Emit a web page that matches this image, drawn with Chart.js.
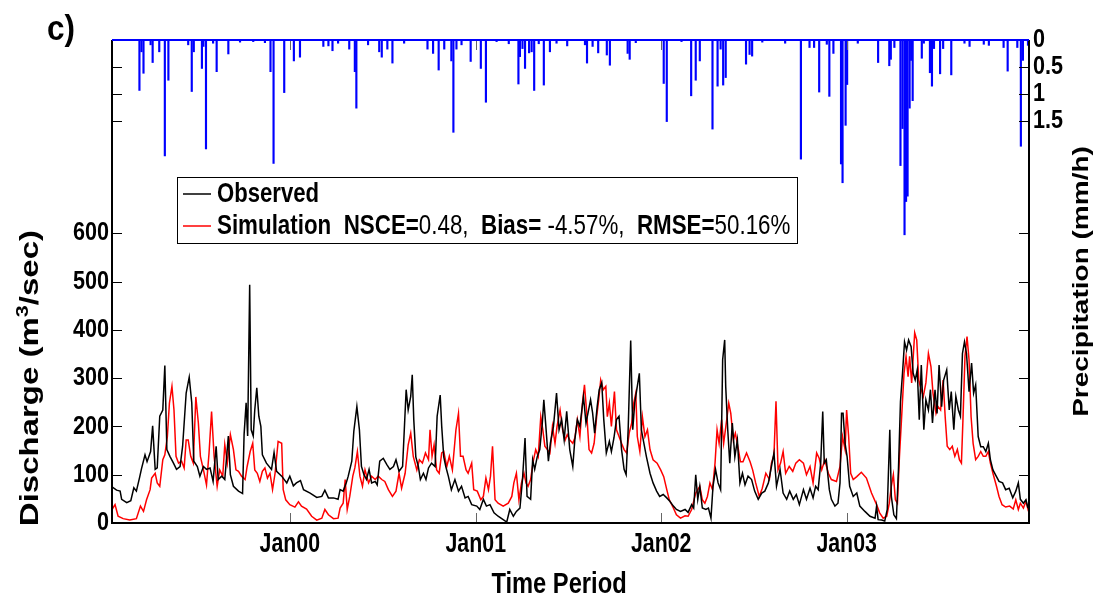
<!DOCTYPE html>
<html>
<head>
<meta charset="utf-8">
<script src="https://cdn.jsdelivr.net/npm/chart.js@4.4.1/dist/chart.umd.min.js"></script>
<style>
  html, body { margin: 0; padding: 0; background: #fff; }
  canvas { display: block; }
</style>
</head>
<body>
<canvas id="chart" width="1101" height="605"></canvas>
<script>
// x values are days counted from 1 Jan 1999 (day 0)
const xTickDays = [365, 731, 1096, 1461];
const xTickLabels = ['Jan00', 'Jan01', 'Jan02', 'Jan03'];
const qTicks = [0, 100, 200, 300, 400, 500, 600];
const pTicks = [0, 0.5, 1, 1.5];
const pTickLabels = ['0', '0.5', '1', '1.5'];

// observed discharge (m3/sec)
const obsDay = [
  15, 24, 31, 34, 44, 52, 58, 63, 69, 73,
  80, 84, 91, 95, 100, 104, 109, 115, 119, 123,
  129, 136, 142, 149, 154, 161, 167, 172, 176, 183,
  188, 195, 201, 208, 214, 220, 224, 231, 237, 244,
  248, 254, 264, 272, 275, 279, 282, 286, 289, 293,
  296, 300, 304, 308, 311, 319, 329, 334, 339, 349,
  359, 365, 372, 378, 386, 392, 405, 418, 428, 434,
  441, 451, 460,
  464, 470, 476, 480, 487, 491, 497, 502, 506, 511,
  516, 521, 526, 533, 537, 542, 549, 556, 562, 569,
  574, 580, 587, 594, 598, 603, 606, 609, 613, 618,
  622, 628, 633, 638, 644, 651, 655, 661, 664, 668,
  672, 677, 683, 690, 697, 703, 710, 716, 723, 733,
  739, 746, 752, 759, 767, 775, 785, 792, 798, 805,
  811, 818, 823, 828, 832, 839, 843, 847, 852, 857,
  862, 865, 869, 874, 878, 884, 890, 895, 900, 905,
  910,
  916, 922, 926, 931, 936, 943, 948, 952, 957, 961,
  965, 970, 974, 979, 983, 988, 994, 998, 1003, 1008,
  1013, 1018, 1023, 1027, 1031, 1036, 1040, 1044, 1048, 1053,
  1057, 1062, 1067, 1074, 1080, 1087, 1093, 1100, 1107, 1113,
  1120, 1126, 1134, 1143, 1149, 1156, 1160, 1164, 1168, 1172,
  1177, 1184, 1189, 1194, 1198, 1203, 1208, 1213, 1217, 1221,
  1223, 1227, 1231, 1236, 1241, 1246, 1251, 1256, 1261, 1267,
  1274, 1280, 1287, 1294, 1300, 1307, 1313, 1318, 1323, 1330,
  1336, 1343, 1349, 1356, 1362, 1368,
  1376, 1382, 1389, 1395, 1400, 1405, 1410, 1414, 1417, 1421,
  1427, 1431, 1438, 1444, 1448, 1451, 1454, 1458, 1462, 1467,
  1474, 1481, 1487, 1497, 1507, 1517, 1520, 1523, 1530, 1536,
  1541, 1546, 1549, 1554, 1559, 1563, 1567, 1571, 1575, 1579,
  1583, 1588, 1592, 1596, 1600, 1604, 1608, 1613, 1617, 1622,
  1626, 1630, 1635, 1639, 1643, 1648, 1652, 1658, 1663, 1667,
  1672, 1676, 1681, 1685, 1689, 1693, 1697, 1702, 1707, 1711,
  1715, 1720, 1725, 1730, 1735, 1740, 1744, 1749, 1756, 1761,
  1768, 1774, 1781, 1788, 1794, 1799, 1803, 1809, 1814, 1818
];
const obsQ = [
  75, 68, 66, 49, 42, 46, 73, 66, 93, 112,
  141, 127, 148, 201, 111, 114, 221, 234, 326, 152,
  138, 124, 111, 117, 159, 269, 302, 249, 128, 117,
  97, 117, 111, 114, 86, 159, 90, 97, 90, 180,
  100, 76, 66, 61, 183, 249, 180, 493, 193, 180,
  234, 280, 221, 200, 141, 124, 111, 146, 107, 97,
  83, 97, 77, 83, 88, 69, 62, 53, 55, 68,
  52, 52, 49,
  69, 66, 83, 97, 128, 190, 241, 193, 117, 100,
  90, 111, 83, 86, 79, 128, 134, 121, 111, 117,
  131, 107, 117, 276, 234, 262, 307, 214, 137, 117,
  90, 103, 90, 114, 124, 117, 221, 265, 200, 137,
  117, 97, 69, 90, 66, 76, 52, 55, 38, 35,
  28, 49, 35, 38, 21, 14, 7, 2, 28, 14,
  24, 31, 90, 176, 55, 49, 131, 111, 137, 152,
  207, 255, 200, 128, 166, 200, 269, 193, 214, 172,
  231,
  152, 117, 172, 214, 200, 262, 207, 228, 255, 228,
  186, 241, 276, 290, 214, 145, 169, 148, 176, 214,
  221, 152, 111, 100, 193, 378, 193, 249, 276, 310,
  193, 165, 137, 103, 83, 66, 55, 59, 52, 45,
  35, 28, 24, 28, 22, 38, 31, 100, 49, 76,
  31, 28, 31, 10, 76, 111, 83, 69, 338, 379,
  283, 193, 124, 207, 137, 172, 83, 103, 79, 97,
  90, 66, 49, 62, 66, 83, 117, 145, 76, 111,
  62, 49, 66, 49, 59, 38,
  69, 49, 72, 52, 76, 69, 124, 231, 124, 131,
  69, 49, 35, 41, 83, 227, 227, 165, 137, 76,
  55, 62, 35, 24, 14, 10, 35, 7, 6, 4,
  28, 193, 55, 17, 9, 110, 251, 310, 375, 358,
  379, 365, 310, 296, 317, 214, 327, 193, 255, 234,
  276, 207, 276, 227, 327, 241, 296, 317, 234, 272,
  193, 262, 234, 221, 351, 375, 351, 272, 331, 269,
  286, 179, 158, 158, 148, 165, 131, 110, 96, 86,
  83, 69, 72, 52, 66, 83, 49, 41, 48, 31
];

// simulated discharge (m3/sec)
const simDay = [
  15, 21, 27, 37, 50, 63, 71, 77, 83, 90,
  93, 100, 104, 109, 115, 119, 124, 128, 133, 137,
  141, 146, 152, 157, 161, 165, 170, 175, 180, 185,
  189, 195, 201, 206, 211, 216, 222, 227, 233, 237,
  242, 248, 254, 259, 264, 270, 277, 281, 287, 292,
  296, 301, 306, 311, 316, 321, 326, 331, 336, 342,
  349, 352, 357, 365, 375, 382, 388, 398, 408, 418,
  428, 434, 441, 451, 460,
  464, 470, 474, 478, 483, 489, 493, 498, 503, 508,
  513, 520, 526, 533, 539, 546, 552, 559, 567, 574,
  580, 585, 592, 598, 603, 608, 615, 620, 626, 632,
  638, 641, 645, 649, 654, 659, 664, 668, 674, 679,
  685, 692, 697, 701, 706, 712, 716, 723, 727, 734,
  741, 746, 751, 756, 760, 764, 769, 775, 785, 795,
  802, 806, 811, 816, 821, 826, 830, 834, 839, 844,
  849, 854, 859, 863, 867, 872, 877, 882, 887, 891,
  897, 902, 907, 911,
  916, 922, 926, 931, 936, 941, 945, 949, 954, 959,
  964, 969, 973, 977, 982, 987, 990, 994, 998, 1004,
  1008, 1013, 1018, 1023, 1028, 1033, 1038, 1042, 1046, 1049,
  1054, 1059, 1064, 1069, 1074, 1080, 1088, 1095, 1101, 1107,
  1112, 1120, 1126, 1134, 1143, 1149, 1156, 1164, 1172, 1177,
  1182, 1187, 1192, 1197, 1202, 1206, 1210, 1215, 1219, 1225,
  1229, 1233, 1238, 1242, 1248, 1252, 1257, 1264, 1271, 1276,
  1282, 1289, 1295, 1302, 1309, 1313, 1318, 1322, 1326, 1331,
  1336, 1341, 1348, 1355, 1361, 1368,
  1376, 1382, 1389, 1395, 1402, 1407, 1412, 1418, 1425, 1431,
  1441, 1448, 1453, 1458, 1461, 1465, 1469, 1474, 1481, 1490,
  1500, 1510, 1520, 1526, 1533, 1540, 1545, 1549, 1553, 1557,
  1561, 1565, 1569, 1574, 1578, 1582, 1585, 1589, 1595, 1599,
  1603, 1606, 1612, 1617, 1622, 1627, 1631, 1637, 1641, 1646,
  1651, 1655, 1659, 1664, 1669, 1674, 1679, 1683, 1687, 1690,
  1694, 1698, 1702, 1706, 1710, 1715, 1720, 1725, 1730, 1735,
  1740, 1744, 1749, 1756, 1761, 1767, 1774, 1782, 1789, 1794,
  1799, 1803, 1809, 1814, 1819
];
const simQ = [
  28, 38, 14, 9, 6, 9, 35, 24, 48, 69,
  93, 103, 83, 76, 131, 141, 179, 248, 283, 234,
  138, 124, 128, 114, 172, 172, 138, 124, 261, 207,
  138, 110, 79, 145, 231, 138, 76, 110, 97, 162,
  124, 183, 152, 110, 107, 97, 90, 117, 148, 165,
  110, 103, 86, 107, 114, 93, 103, 69, 103, 169,
  165, 69, 48, 38, 33, 44, 35, 29, 14, 6,
  10, 28, 17, 9, 10,
  31, 41, 90, 28, 55, 97, 114, 148, 97, 76,
  110, 83, 97, 90, 97, 90, 86, 69, 55, 66,
  103, 72, 103, 162, 186, 138, 110, 131, 124, 145,
  131, 193, 138, 162, 110, 103, 145, 148, 117, 138,
  110, 193, 227, 138, 138, 110, 103, 124, 69, 66,
  48, 55, 93, 69, 97, 159, 48, 41, 35, 41,
  55, 83, 103, 48, 83, 103, 83, 76, 90, 127,
  152, 138, 220, 193, 159, 152, 145, 200, 165, 200,
  234, 193, 172, 183,
  172, 165, 176, 214, 179, 248, 286, 234, 152, 145,
  165, 220, 255, 296, 276, 283, 220, 248, 200, 272,
  193, 179, 165, 152, 145, 186, 207, 248, 269, 179,
  148, 220, 179, 193, 152, 131, 124, 110, 96, 69,
  48, 31, 17, 10, 15, 14, 28, 62, 76, 48,
  41, 55, 83, 69, 124, 193, 165, 214, 165, 214,
  248, 227, 172, 186, 152, 127, 127, 145, 127, 110,
  83, 55, 72, 103, 90, 124, 141, 252, 110, 124,
  148, 103, 117, 107, 124, 131,
  124, 100, 117, 83, 145, 134, 110, 131, 103, 90,
  86, 117, 179, 152, 234, 179, 103, 90, 96, 105,
  93, 62, 38, 21, 10, 14, 41, 76, 100, 48,
  41, 138, 214, 310, 345, 303, 345, 290, 394, 379,
  296, 283, 262, 290, 351, 324, 269, 227, 241, 234,
  296, 220, 159, 152, 159, 138, 152, 131, 124, 214,
  345, 386, 338, 220, 165, 131, 138, 148, 138, 138,
  148, 124, 103, 76, 55, 38, 33, 35, 29, 48,
  28, 41, 31, 45, 24
];

// precipitation (mm/h), drawn downward from the top axis
const rainDay = [
  69, 73, 77, 91, 95, 108, 119, 126, 165, 172,
  176, 192, 195, 200, 214, 221, 244, 267, 293, 316,
  327, 333, 354, 373, 385, 431, 441, 449, 460, 482,
  493, 496, 519, 541, 546, 557, 567, 590, 636, 647,
  658, 669, 683, 687, 693, 703, 721, 741, 751, 772,
  796, 815, 818, 823, 828, 836, 841, 846, 855, 865,
  877, 890, 911, 946, 950, 961, 972, 989, 995, 1030,
  1034, 1046, 1101, 1107, 1136, 1155, 1164, 1172, 1197, 1207,
  1213, 1218, 1223, 1263, 1270, 1275, 1295, 1340, 1371, 1388,
  1397, 1407, 1422, 1427, 1435, 1450, 1453, 1459, 1462, 1483,
  1523, 1545, 1548, 1555, 1567, 1571, 1575, 1578, 1581, 1585,
  1588, 1591, 1609, 1613, 1625, 1629, 1633, 1645, 1651, 1667,
  1693, 1703, 1731, 1741, 1770, 1778, 1797, 1804, 1808, 1818
];
const rainMm = [
  0.94, 0.22, 0.62, 0.09, 0.42, 0.22, 2.16, 0.75, 0.09, 0.96,
  0.22, 0.53, 0.12, 2.03, 0.06, 0.59, 0.26, 0.04, 0.03, 0.05,
  0.59, 2.30, 0.98, 0.39, 0.32, 0.12, 0.11, 0.20, 0.06, 0.17,
  0.59, 1.27, 0.09, 0.22, 0.32, 0.17, 0.43, 0.06, 0.17, 0.25,
  0.56, 0.17, 0.39, 1.72, 0.17, 0.09, 0.40, 0.53, 1.16, 0.03,
  0.07, 0.82, 0.31, 0.16, 0.53, 0.24, 0.22, 0.94, 0.07, 0.84,
  0.22, 0.06, 0.11, 0.09, 0.43, 0.12, 0.24, 0.28, 0.47, 0.25,
  0.36, 0.05, 0.81, 1.52, 0.03, 1.04, 0.75, 0.39, 1.66, 0.86,
  0.17, 0.84, 0.70, 0.45, 0.27, 0.30, 0.04, 0.06, 2.22, 0.14,
  0.14, 0.97, 0.08, 1.05, 0.25, 2.31, 2.66, 1.59, 0.83, 0.06,
  0.42, 0.48, 0.36, 0.14, 2.34, 1.65, 3.63, 3.01, 2.91, 1.27,
  0.38, 1.13, 0.34, 0.06, 0.61, 0.86, 0.16, 0.63, 0.16, 0.65,
  0.06, 0.12, 0.08, 0.10, 0.14, 0.58, 0.14, 1.98, 0.38, 0.10
];

const FONT = '"Liberation Sans", Arial, Helvetica, sans-serif';
const SQUEEZE = 0.79;

function fontOf(run, size) {
  const s = size * (run.s || 1);
  return (run.b ? 'bold ' : '') + s + 'px ' + FONT;
}

function runsWidth(ctx, runs, size) {
  let w = 0;
  runs.forEach(r => { ctx.font = fontOf(r, size); w += ctx.measureText(r.t).width; });
  return w;
}

function putRuns(ctx, runs, size, align) {
  const w = runsWidth(ctx, runs, size);
  let cx = align === 'center' ? -w / 2 : (align === 'right' ? -w : 0);
  ctx.textAlign = 'left';
  ctx.textBaseline = 'middle';
  runs.forEach(r => {
    ctx.font = fontOf(r, size);
    ctx.fillText(r.t, cx, (r.dy || 0) * size);
    cx += ctx.measureText(r.t).width;
  });
}

function drawText(ctx, runs, x, y, size, align, rotated, squeeze) {
  ctx.save();
  ctx.translate(x, y);
  ctx.scale(squeeze || SQUEEZE, 1);
  if (rotated) ctx.rotate(-Math.PI / 2);
  ctx.fillStyle = '#000';
  putRuns(ctx, runs, size, align);
  ctx.restore();
}

const framePlugin = {
  id: 'frame',
  afterDatasetsDraw(chart) {
    const { ctx, chartArea: a, scales } = chart;
    const x = scales.x, yQ = scales.yQ, yP = scales.yP;
    const tl = 10;
    ctx.save();

    // inner tick marks
    ctx.lineWidth = 1;
    ctx.strokeStyle = '#000';
    ctx.beginPath();
    qTicks.forEach(v => {
      const py = Math.round(yQ.getPixelForValue(v)) + 0.5;
      ctx.moveTo(a.left, py); ctx.lineTo(a.left + tl, py);
      if (v > 0) { ctx.moveTo(a.right, py); ctx.lineTo(a.right - tl, py); }
    });
    pTicks.forEach(v => {
      if (v === 0) return;
      const py = Math.round(yP.getPixelForValue(v)) + 0.5;
      ctx.moveTo(a.left, py); ctx.lineTo(a.left + tl, py);
      ctx.moveTo(a.right, py); ctx.lineTo(a.right - tl, py);
    });
    ctx.stroke();
    ctx.strokeStyle = '#666';
    ctx.beginPath();
    xTickDays.forEach(d => {
      const px = Math.round(x.getPixelForValue(d)) + 0.5;
      ctx.moveTo(px, a.bottom); ctx.lineTo(px, a.bottom - tl);
      ctx.moveTo(px, a.top); ctx.lineTo(px, a.top + tl);
    });
    ctx.stroke();

    // frame
    ctx.lineWidth = 2;
    ctx.strokeStyle = '#000';
    ctx.beginPath();
    ctx.moveTo(a.left, a.top); ctx.lineTo(a.left, a.bottom);
    ctx.lineTo(a.right, a.bottom); ctx.lineTo(a.right, a.top);
    ctx.stroke();
    ctx.strokeStyle = '#0000ff';
    ctx.beginPath();
    ctx.moveTo(a.left, a.top); ctx.lineTo(a.right, a.top);
    ctx.stroke();

    // tick labels
    qTicks.forEach(v => {
      drawText(ctx, [{ t: String(v), b: true }], a.left - 3, yQ.getPixelForValue(v), 26, 'right', false, 0.83);
    });
    pTicks.forEach((v, i) => {
      drawText(ctx, [{ t: pTickLabels[i], b: true }], a.right + 4, yP.getPixelForValue(v), 26, 'left', false, 0.83);
    });
    xTickDays.forEach((d, i) => {
      drawText(ctx, [{ t: xTickLabels[i], b: true }], x.getPixelForValue(d), a.bottom + 22, 27, 'center');
    });

    // axis titles and panel label
    drawText(ctx, [{ t: 'Time Period', b: true }], 559, 585, 30, 'center');
    drawText(ctx, [
      { t: 'Discharge (m', b: true },
      { t: '3', b: true, s: 0.65, dy: -0.28 },
      { t: '/sec)', b: true }
    ], 31, (yQ.getPixelForValue(0) + yQ.getPixelForValue(600)) / 2, 33, 'center', true);
    drawText(ctx, [{ t: 'Precipitation (mm/h)', b: true }], 1082, (a.top + a.bottom) / 2, 28, 'center', true);
    drawText(ctx, [{ t: 'c)', b: true }], 47, 30, 35, 'left', false, 0.9);

    // legend
    const lx = 177.5, ly = 177.5, lw = 620, lh = 66;
    ctx.fillStyle = '#fff';
    ctx.fillRect(lx, ly, lw, lh);
    ctx.lineWidth = 1;
    ctx.strokeStyle = '#000';
    ctx.strokeRect(lx, ly, lw, lh);
    ctx.lineWidth = 1.5;
    ctx.beginPath();
    ctx.moveTo(183, 194); ctx.lineTo(211, 194);
    ctx.stroke();
    ctx.strokeStyle = '#ff0000';
    ctx.beginPath();
    ctx.moveTo(183, 226); ctx.lineTo(211, 226);
    ctx.stroke();
    drawText(ctx, [{ t: 'Observed', b: true }], 217, 194, 28, 'left');
    drawText(ctx, [
      { t: 'Simulation  NSCE=', b: true },
      { t: '0.48,', b: false },
      { t: '  Bias=', b: true },
      { t: ' -4.57%,', b: false },
      { t: '  RMSE=', b: true },
      { t: '50.16%', b: false }
    ], 217, 226, 28.3, 'left');

    ctx.restore();
  }
};

const pts = (xs, ys) => xs.map((d, i) => ({ x: d, y: ys[i] }));

new Chart(document.getElementById('chart'), {
  type: 'line',
  data: {
    datasets: [
      {
        type: 'bar',
        label: 'Precipitation',
        data: pts(rainDay, rainMm),
        yAxisID: 'yP',
        backgroundColor: '#0000ff',
        borderWidth: 0,
        barThickness: 1.5,
        order: 3
      },
      {
        label: 'Simulation',
        data: pts(simDay, simQ),
        yAxisID: 'yQ',
        borderColor: '#ff0000',
        borderWidth: 1.5,
        pointRadius: 0,
        tension: 0,
        fill: false,
        order: 2
      },
      {
        label: 'Observed',
        data: pts(obsDay, obsQ),
        yAxisID: 'yQ',
        borderColor: '#000000',
        borderWidth: 1.5,
        pointRadius: 0,
        tension: 0,
        fill: false,
        order: 1
      }
    ]
  },
  options: {
    responsive: false,
    animation: false,
    events: [],
    layout: { padding: { top: 40, left: 0, right: 0, bottom: 0 } },
    plugins: { legend: { display: false }, tooltip: { enabled: false } },
    scales: {
      x: {
        type: 'linear',
        min: 15,
        max: 1820,
        offset: false,
        grid: { display: false },
        border: { display: false },
        ticks: { display: false },
        afterBuildTicks: s => { s.ticks = xTickDays.map(v => ({ value: v })); },
        afterFit: s => { s.height = 82; }
      },
      yQ: {
        type: 'linear',
        position: 'left',
        min: 0,
        max: 1000,
        grid: { display: false },
        border: { display: false },
        ticks: { display: false },
        afterBuildTicks: s => { s.ticks = qTicks.map(v => ({ value: v })); },
        afterFit: s => { s.width = 112; }
      },
      yP: {
        type: 'linear',
        position: 'right',
        reverse: true,
        min: 0,
        max: 9,
        grid: { display: false },
        border: { display: false },
        ticks: { display: false },
        afterBuildTicks: s => { s.ticks = pTicks.map(v => ({ value: v })); },
        afterFit: s => { s.width = 72; }
      }
    }
  },
  plugins: [framePlugin]
});
</script>
</body>
</html>
